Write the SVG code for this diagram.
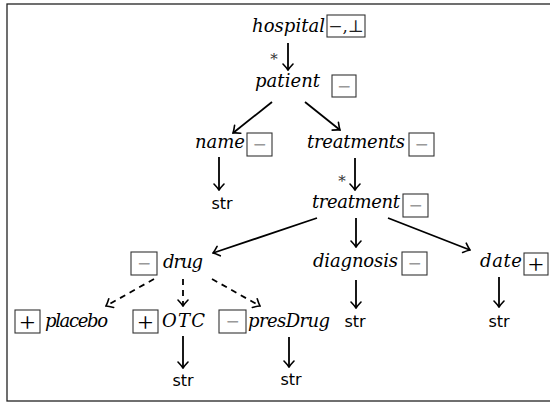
<svg xmlns="http://www.w3.org/2000/svg" width="550" height="405" viewBox="0 0 550 405">
<style>
.lbl{font-family:"DejaVu Serif","Liberation Serif",serif;font-style:italic;font-size:18px;fill:#000}
.str{font-family:"DejaVu Sans",sans-serif;font-size:16px;fill:#000;text-anchor:middle}
.box{fill:#fff;stroke:#333;stroke-width:1.1}
.mi{font-family:"DejaVu Sans",sans-serif;font-size:17px;fill:#999;text-anchor:middle}
.pl{font-family:"Liberation Serif",serif;font-size:28px;fill:#000;text-anchor:middle}
.ast{font-family:"DejaVu Serif",serif;font-size:15px;fill:#333;text-anchor:middle}
.e{stroke:#000;stroke-width:1.8;fill:none;marker-end:url(#ah)}
.d{stroke-dasharray:6 5}
</style>
<defs>
<marker id="ah" viewBox="-8 -6 9 12" refX="0" refY="0" markerWidth="9" markerHeight="12" orient="auto" markerUnits="userSpaceOnUse">
<path d="M-6,-5 Q-2.2,-1.4 0,0 Q-2.2,1.4 -6,5" fill="none" stroke="#000" stroke-width="1.6" stroke-linecap="round"/>
</marker>
</defs>
<rect x="7" y="4" width="560" height="397" fill="none" stroke="#222" stroke-width="1.3"/>

<g id="connectors">
<line class="e" x1="288" y1="43" x2="288" y2="70"/>
<line class="e" x1="272" y1="102" x2="233" y2="133"/>
<line class="e" x1="305" y1="102" x2="340" y2="130"/>
<line class="e" x1="219" y1="157" x2="219" y2="190"/>
<line class="e" x1="355" y1="158" x2="355" y2="190"/>
<line class="e" x1="317" y1="218" x2="213" y2="253"/>
<line class="e" x1="356" y1="218" x2="356" y2="247"/>
<line class="e" x1="388" y1="218" x2="470" y2="250"/>
<line class="e" x1="356" y1="280" x2="356" y2="308"/>
<line class="e" x1="499" y1="277" x2="499" y2="307"/>
<line class="e d" x1="154" y1="279" x2="106" y2="306"/>
<line class="e d" x1="183" y1="279" x2="183" y2="306"/>
<line class="e d" x1="212" y1="279" x2="260" y2="306"/>
<line class="e" x1="183" y1="336" x2="183" y2="368"/>
<line class="e" x1="289" y1="337" x2="289" y2="367"/>
<text class="ast" x="274" y="64">*</text>
<text class="ast" x="342" y="186">*</text>
</g>

<g id="hospital">
<text class="lbl" x="252" y="32" textLength="73">hospital</text>
<rect class="box" x="327" y="15" width="38" height="22"/>
<text x="346" y="32" font-family="DejaVu Serif, serif" font-size="17" fill="#222" text-anchor="middle">−,⊥</text>
</g>

<g id="patient">
<text class="lbl" x="255" y="87" textLength="65">patient</text>
<rect class="box" x="332" y="75" width="24" height="22"/>
<text class="mi" x="344" y="92">−</text>
</g>

<g id="name">
<text class="lbl" x="195" y="148" textLength="50">name</text>
<rect class="box" x="247" y="133" width="25" height="23"/>
<text class="mi" x="259.5" y="150">−</text>
</g>

<g id="str_name"><text class="str" x="222" y="209">str</text></g>

<g id="treatments">
<text class="lbl" x="307" y="148" textLength="98">treatments</text>
<rect class="box" x="409" y="133" width="25" height="23"/>
<text class="mi" x="421.5" y="150">−</text>
</g>

<g id="treatment">
<text class="lbl" x="312" y="208" textLength="88">treatment</text>
<rect class="box" x="403" y="194" width="25" height="23"/>
<text class="mi" x="415.5" y="211">−</text>
</g>

<g id="drug">
<rect class="box" x="131" y="252" width="26" height="23"/>
<text class="mi" x="144" y="269">−</text>
<text class="lbl" x="163" y="268" textLength="40">drug</text>
</g>

<g id="diagnosis">
<text class="lbl" x="313" y="267" textLength="85">diagnosis</text>
<rect class="box" x="402" y="252" width="25" height="23"/>
<text class="mi" x="414.5" y="269">−</text>
</g>
<g id="str_diagnosis"><text class="str" x="355" y="327">str</text></g>

<g id="date">
<text class="lbl" x="480" y="267" textLength="42">date</text>
<rect class="box" x="524" y="253" width="24" height="22"/>
<text class="pl" x="536" y="273.5">+</text>
</g>
<g id="str_date"><text class="str" x="499" y="327">str</text></g>

<g id="placebo">
<rect class="box" x="15" y="310" width="25" height="23"/>
<text class="pl" x="27.5" y="331.5">+</text>
<text class="lbl" x="45" y="327" textLength="63">placebo</text>
</g>

<g id="OTC">
<rect class="box" x="133" y="310" width="25" height="23"/>
<text class="pl" x="145.5" y="331.5">+</text>
<text class="lbl" x="162" y="327" textLength="43">OTC</text>
</g>
<g id="str_OTC"><text class="str" x="183" y="386">str</text></g>

<g id="presDrug">
<rect class="box" x="219" y="310" width="27" height="23"/>
<text class="mi" x="232.5" y="327">−</text>
<text class="lbl" x="248" y="327" textLength="82">presDrug</text>
</g>
<g id="str_presDrug"><text class="str" x="291" y="385">str</text></g>
</svg>
